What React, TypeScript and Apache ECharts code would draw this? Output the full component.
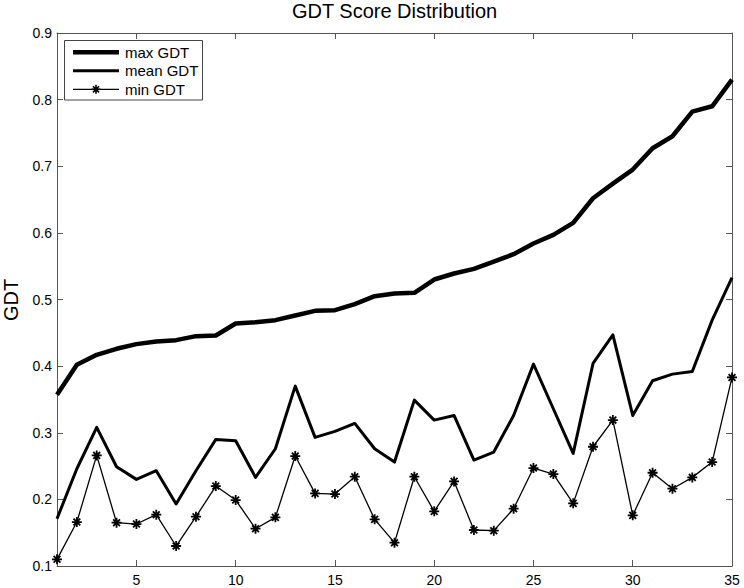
import React, { useEffect, useRef } from "react";
import * as echarts from "echarts";

const xValues = [1,2,3,4,5,6,7,8,9,10,11,12,13,14,15,16,17,18,19,20,21,22,23,24,25,26,27,28,29,30,31,32,33,34,35];
const maxGDT = [0.357,0.402,0.417,0.426,0.433,0.437,0.439,0.445,0.446,0.464,0.466,0.469,0.476,0.483,0.484,0.493,0.505,0.509,0.510,0.530,0.539,0.546,0.557,0.568,0.584,0.597,0.615,0.652,0.674,0.695,0.727,0.745,0.782,0.790,0.830];
const meanGDT = [0.171,0.246,0.308,0.249,0.230,0.243,0.193,0.243,0.290,0.288,0.233,0.276,0.370,0.293,0.302,0.314,0.276,0.256,0.349,0.319,0.326,0.259,0.271,0.326,0.403,0.336,0.269,0.404,0.447,0.326,0.378,0.388,0.392,0.469,0.533];
const minGDT = [0.110,0.166,0.266,0.165,0.163,0.177,0.130,0.174,0.220,0.199,0.156,0.173,0.265,0.209,0.208,0.234,0.170,0.135,0.234,0.182,0.227,0.154,0.153,0.186,0.247,0.238,0.194,0.279,0.319,0.176,0.240,0.216,0.233,0.256,0.383];
const xTicks = [5,10,15,20,25,30,35];
const seriesNames = ["max GDT", "mean GDT", "min GDT"];
const titleText = "GDT Score Distribution";
const yName = "GDT";

const FONT = "'Liberation Sans', Arial, Helvetica, sans-serif";
const AXIS_COLOR = "#555";
const STAR_PATH = "M5 0 L5 10 M0 5 L10 5 M1.6 1.6 L8.4 8.4 M8.4 1.6 L1.6 8.4";

export default function App() {
  const ref = useRef<HTMLDivElement>(null);
  useEffect(() => {
    if (!ref.current) return;
    echarts.graphic.registerShape("asterisk", echarts.graphic.extendPath(STAR_PATH, {}));
    const chart = echarts.init(ref.current, null, { renderer: "svg" });
    const pair = (arr: number[]) => arr.map((v, i) => [xValues[i], v]);
    const tickStyle = { show: true, inside: true, length: 6, lineStyle: { color: AXIS_COLOR, width: 1 } };
    const axisLine = { show: true, lineStyle: { color: AXIS_COLOR, width: 1 } };
    const legendRows = [52.3, 70.7, 89.3];
    const legendWidths = [4.5, 3, 1.3];
    const legendGraphics: any[] = [
      {
        type: "rect",
        shape: { x: 64.5, y: 40.5, width: 138, height: 59.5 },
        style: { fill: "#fff", stroke: "#444", lineWidth: 1 },
        z: 100,
      },
    ];
    seriesNames.forEach((n, i) => {
      legendGraphics.push({
        type: "line",
        shape: { x1: 73, y1: legendRows[i], x2: 119, y2: legendRows[i] },
        style: { stroke: "#000", lineWidth: legendWidths[i] },
        z: 101,
      });
      legendGraphics.push({
        type: "text",
        x: 125,
        y: legendRows[i],
        style: { text: n, fontSize: 15, fontFamily: FONT, fill: "#000", verticalAlign: "middle", align: "left" },
        z: 101,
      });
    });
    legendGraphics.push({
      type: "asterisk",
      x: 91.5,
      y: legendRows[2] - 4.5,
      scaleX: 0.9,
      scaleY: 0.9,
      style: { stroke: "#000", fill: "none", lineWidth: 1.8 },
      z: 102,
    });
    legendGraphics.push({
      type: "text",
      x: 10.5,
      y: 300,
      rotation: Math.PI / 2,
      style: { text: yName, fontSize: 20, fontFamily: FONT, fill: "#000", align: "center", verticalAlign: "middle" },
    });

    chart.setOption({
      animation: false,
      backgroundColor: "#fff",
      title: {
        text: titleText,
        left: 394.5,
        top: 1,
        textAlign: "center",
        padding: 0,
        textStyle: { fontFamily: FONT, fontSize: 20, fontWeight: "normal", color: "#000" },
      },
      grid: { left: 57, right: 12, top: 33, bottom: 22, containLabel: false },
      xAxis: [
        {
          type: "value",
          min: 1,
          max: 35,
          position: "bottom",
          axisLine,
          axisTick: { ...tickStyle, customValues: xTicks },
          axisLabel: { show: true, customValues: xTicks, color: "#000", fontFamily: FONT, fontSize: 14, margin: 7 },
          splitLine: { show: false },
        },
        {
          type: "value",
          min: 1,
          max: 35,
          position: "top",
          axisLine,
          axisTick: { ...tickStyle, customValues: xTicks },
          axisLabel: { show: false },
          splitLine: { show: false },
        },
      ],
      yAxis: [
        {
          type: "value",
          min: 0.1,
          max: 0.9,
          interval: 0.1,
          position: "left",
          axisLine,
          axisTick: tickStyle,
          axisLabel: {
            color: "#000",
            fontFamily: FONT,
            fontSize: 14,
            margin: 5,
            formatter: (v: number) => v.toFixed(1),
          },
          splitLine: { show: false },
        },
        {
          type: "value",
          min: 0.1,
          max: 0.9,
          interval: 0.1,
          position: "right",
          axisLine,
          axisTick: tickStyle,
          axisLabel: { show: false },
          splitLine: { show: false },
        },
      ],
      graphic: legendGraphics,
      series: [
        {
          name: seriesNames[0],
          type: "line",
          data: pair(maxGDT),
          showSymbol: false,
          symbol: "none",
          lineStyle: { color: "#000", width: 4.5, join: "round" },
        },
        {
          name: seriesNames[1],
          type: "line",
          data: pair(meanGDT),
          showSymbol: false,
          symbol: "none",
          lineStyle: { color: "#000", width: 3, join: "round" },
        },
        {
          name: seriesNames[2],
          type: "line",
          data: pair(minGDT),
          symbol: "path://" + STAR_PATH,
          symbolSize: 10,
          itemStyle: { color: "transparent", borderColor: "#000", borderWidth: 1.8 },
          lineStyle: { color: "#000", width: 1.3 },
        },
      ],
    });
    return () => chart.dispose();
  }, []);
  return <div ref={ref} style={{ position: "absolute", left: 0, top: 0, width: 744, height: 588 }} />;
}
